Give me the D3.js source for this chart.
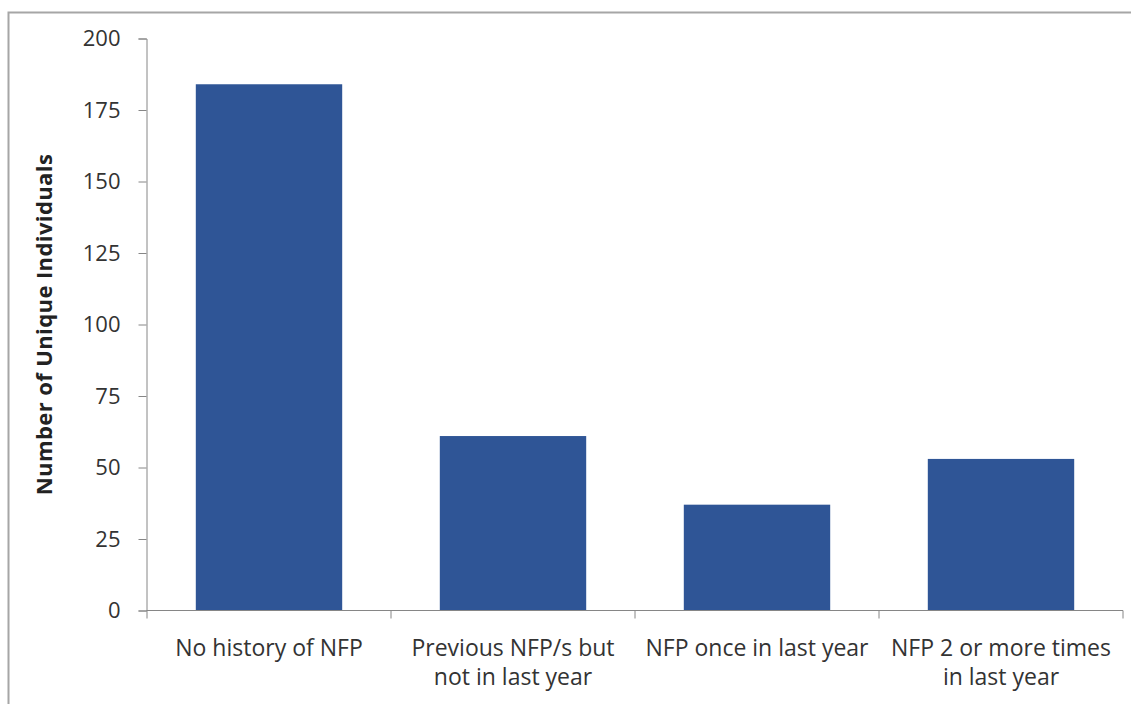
<!DOCTYPE html>
<html><head><meta charset="utf-8">
<script src="https://cdn.jsdelivr.net/npm/d3@7"></script>
<style>html,body{margin:0;padding:0;background:#fff;}svg{display:block;}</style>
</head><body>
<svg id="c" width="1131" height="704"></svg>
<script>
const categories = [["No history of NFP"], ["Previous NFP/s but", "not in last year"], ["NFP once in last year"], ["NFP 2 or more times", "in last year"]];
const values = [184, 61, 37, 53];
const yTicks = [0, 25, 50, 75, 100, 125, 150, 175, 200];
const yTitle = "Number of Unique Individuals";

(function () {
const svg = d3.select("#c");
const font = "'Open Sans', Lato, sans-serif";
svg.append("rect").attr("x", 8.5).attr("y", 12.5).attr("width", 1140).attr("height", 720)
  .attr("fill", "#fff").attr("stroke", "#a6a6a6").attr("stroke-width", 2);

const mLeft = 147, mRight = 1123, mTop = 38.5, mBottom = 610.5;
const x = d3.scaleBand().domain(d3.range(categories.length)).range([mLeft, mRight]).paddingInner(0.4).paddingOuter(0.2);
const y = d3.scaleLinear().domain([0, 200]).range([mBottom, mTop]);

svg.append("g").selectAll("rect").data(values).join("rect")
  .attr("x", (d, i) => x(i)).attr("width", x.bandwidth())
  .attr("y", d => y(d)).attr("height", d => y(0) - y(d)).attr("fill", "#2f5596");

const ya = svg.append("g").attr("transform", `translate(${mLeft - 0.5},0)`)
  .call(d3.axisLeft(y).tickValues(yTicks).tickSize(8).tickPadding(18));
ya.select(".domain").attr("stroke", "#868686");
ya.selectAll(".tick line").attr("stroke", "#868686");
ya.selectAll(".tick text").attr("fill", "#333").style("font-family", font).style("font-size", "22px");

const step = x.step();
const bounds = d3.range(categories.length + 1).map(i => mLeft + i * step);
const xa = svg.append("g").attr("transform", `translate(0,${mBottom})`);
xa.append("line").attr("x1", mLeft - 0.5).attr("x2", mRight).attr("y1", 0).attr("y2", 0).attr("stroke", "#868686");
xa.selectAll("line.t").data(bounds).join("line").attr("class", "t")
  .attr("x1", d => d).attr("x2", d => d).attr("y1", 0).attr("y2", 8).attr("stroke", "#868686");
xa.selectAll("text").data(categories).join("text")
  .attr("text-anchor", "middle").attr("fill", "#333").style("font-family", font).style("font-size", "23px")
  .each(function (d, i) {
    const t = d3.select(this);
    d.forEach((line, j) => t.append("tspan").attr("x", x(i) + x.bandwidth() / 2).attr("y", 45 + j * 29).text(line));
  });

svg.append("text").attr("transform", `translate(52,${(mTop + mBottom) / 2}) rotate(-90)`)
  .attr("text-anchor", "middle").attr("fill", "#222").style("font-family", font)
  .style("font-size", "22px").style("letter-spacing", "0.4px").style("font-weight", "bold").text(yTitle);
})();
</script>
</body></html>
